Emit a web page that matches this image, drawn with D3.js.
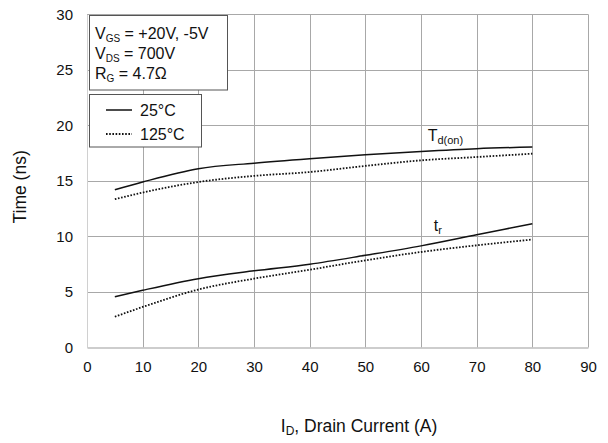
<!DOCTYPE html>
<html>
<head>
<meta charset="utf-8">
<script src="https://cdn.jsdelivr.net/npm/d3@7"></script>
<style>
  html, body { margin: 0; padding: 0; background: #fff; }
  svg { display: block; }
  text { font-family: "Liberation Sans", Arial, sans-serif; fill: #111; }
</style>
</head>
<body>
<svg id="chart" width="608" height="443"></svg>
<script>
// Drain current (A)
const current = [5, 10, 20, 30, 40, 50, 60, 70, 80];

// Turn-on delay time Td(on) (ns)
const tdOn25 = [14.2, 14.9, 16.1, 16.6, 17.0, 17.35, 17.65, 17.9, 18.05];
const tdOn125 = [13.35, 13.95, 14.9, 15.45, 15.8, 16.35, 16.85, 17.15, 17.45];

// Rise time tr (ns)
const tr25 = [4.57, 5.15, 6.2, 6.9, 7.5, 8.3, 9.15, 10.15, 11.15];
const tr125 = [2.77, 3.65, 5.22, 6.2, 7.0, 7.85, 8.6, 9.2, 9.72];

const xTicks = [0, 10, 20, 30, 40, 50, 60, 70, 80, 90];
const yTicks = [0, 5, 10, 15, 20, 25, 30];

const conditions = [
  { main: "V", sub: "GS", rest: " = +20V, -5V" },
  { main: "V", sub: "DS", rest: " = 700V" },
  { main: "R", sub: "G", rest: " = 4.7\u03A9" }
];
const legendItems = [
  { label: "25\u00B0C", dash: null },
  { label: "125\u00B0C", dash: "1.6,1.6" }
];

const svg = d3.select("#chart");
const margin = { left: 87, right: 20, top: 14.3, bottom: 95.5 };
const W = 608, H = 443;

const x = d3.scaleLinear().domain([0, 90]).range([margin.left, W - margin.right]);
const y = d3.scaleLinear().domain([0, 30]).range([H - margin.bottom, margin.top]);

// Grid
const grid = svg.append("g");
grid.selectAll("line.v").data(xTicks.slice(1)).join("line")
  .attr("x1", d => Math.round(x(d)) + 0.5).attr("x2", d => Math.round(x(d)) + 0.5)
  .attr("y1", y(30)).attr("y2", y(0))
  .attr("stroke", "#a8a8a8").attr("stroke-width", 1);
grid.selectAll("line.h").data(yTicks.slice(1)).join("line")
  .attr("x1", x(0)).attr("x2", x(90))
  .attr("y1", d => Math.round(y(d)) + 0.5).attr("y2", d => Math.round(y(d)) + 0.5)
  .attr("stroke", "#a8a8a8").attr("stroke-width", 1);

// Axes
const xAxis = svg.append("g")
  .attr("transform", `translate(0,${y(0)})`)
  .call(d3.axisBottom(x).tickValues(xTicks).tickSize(0).tickPadding(14));
xAxis.select(".domain").attr("stroke", "#bdbdbd").attr("stroke-width", 1.5);
xAxis.selectAll("text").attr("font-size", 15).attr("fill", "#111")
  .attr("font-family", "Liberation Sans, Arial, sans-serif");

const yAxis = svg.append("g")
  .attr("transform", `translate(${x(0)},0)`)
  .call(d3.axisLeft(y).tickValues(yTicks).tickSize(0).tickPadding(14));
yAxis.select(".domain").attr("stroke", "#d0d0d0").attr("stroke-width", 1);
yAxis.selectAll("text").attr("font-size", 15).attr("fill", "#111")
  .attr("font-family", "Liberation Sans, Arial, sans-serif");

// Curves
const line = d3.line().x((d, i) => x(current[i])).y(d => y(d)).curve(d3.curveMonotoneX);
const series = [
  { values: tdOn25, dash: null },
  { values: tdOn125, dash: "1.6,1.6" },
  { values: tr25, dash: null },
  { values: tr125, dash: "1.6,1.6" }
];
svg.append("g").selectAll("path").data(series).join("path")
  .attr("d", d => line(d.values))
  .attr("fill", "none")
  .attr("stroke", "#111")
  .attr("stroke-width", d => d.dash ? 1.8 : 1.5)
  .attr("stroke-dasharray", d => d.dash);

// Curve labels
const tdLabel = svg.append("text").attr("x", x(61.2)).attr("y", y(18.6)).attr("font-size", 16);
tdLabel.append("tspan").text("T");
tdLabel.append("tspan").attr("font-size", 11).attr("dy", 3).text("d(on)");

const trLabel = svg.append("text").attr("x", x(62.3)).attr("y", y(10.45)).attr("font-size", 16);
trLabel.append("tspan").text("t");
trLabel.append("tspan").attr("font-size", 11).attr("dy", 3).text("r");

// Test-condition box
svg.append("rect").attr("x", 89.5).attr("y", 15.5).attr("width", 138).attr("height", 74.5)
  .attr("fill", "#fff").attr("stroke", "#555").attr("stroke-width", 1);
conditions.forEach((c, i) => {
  const t = svg.append("text").attr("x", 95).attr("y", 38.5 + i * 20).attr("font-size", 16);
  t.append("tspan").text(c.main);
  t.append("tspan").attr("font-size", 10).attr("dy", 3).text(c.sub);
  t.append("tspan").attr("dy", -3).text(c.rest);
});

// Temperature legend
svg.append("rect").attr("x", 89.5).attr("y", 94.5).attr("width", 112).attr("height", 52.5)
  .attr("fill", "#fff").attr("stroke", "#555").attr("stroke-width", 1);
legendItems.forEach((d, i) => {
  const ly = 110 + i * 24;
  svg.append("line").attr("x1", 106).attr("x2", 132).attr("y1", ly).attr("y2", ly)
    .attr("stroke", "#111").attr("stroke-width", d.dash ? 1.8 : 1.5)
    .attr("stroke-dasharray", d.dash);
  svg.append("text").attr("x", 140).attr("y", ly + 6).attr("font-size", 16).text(d.label);
});

// Axis titles
svg.append("text")
  .attr("transform", `translate(26,${(y(0) + y(30)) / 2 + 6}) rotate(-90)`)
  .attr("text-anchor", "middle").attr("font-size", 17.5)
  .text("Time (ns)");

const xt = svg.append("text").attr("x", 359).attr("y", 432)
  .attr("text-anchor", "middle").attr("font-size", 17.5);
xt.append("tspan").text("I");
xt.append("tspan").attr("font-size", 12).attr("dy", 3).text("D");
xt.append("tspan").attr("dy", -3).text(", Drain Current (A)");
</script>
</body>
</html>
